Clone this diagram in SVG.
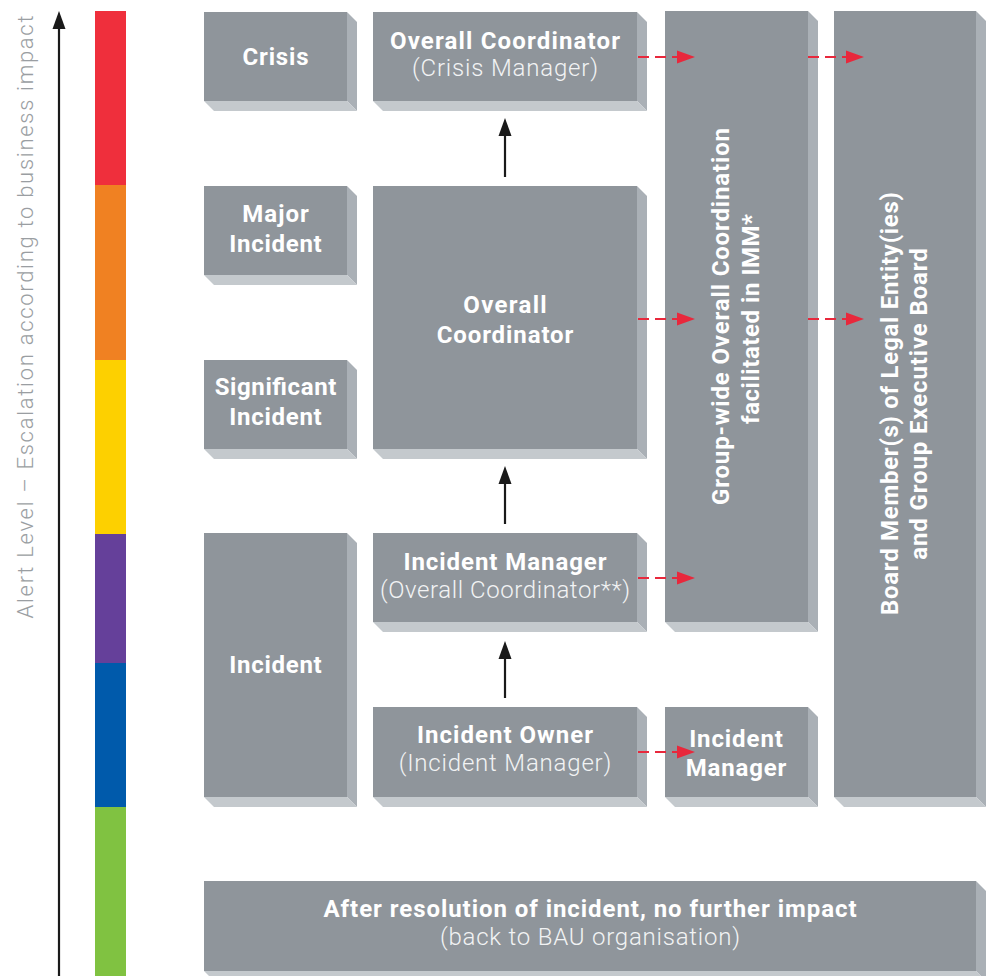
<svg xmlns="http://www.w3.org/2000/svg" width="992" height="976" viewBox="0 0 992 976">
<style>
.face{fill:#8f959b}
.side{fill:#aab0b6}
.bot{fill:#c4c9cd}
.b{font-family:Roboto,"Liberation Sans",sans-serif;font-weight:700;font-size:24px;fill:#ffffff;text-anchor:middle}
.l{font-family:Roboto,"Liberation Sans",sans-serif;font-weight:300;font-size:24px;fill:#f2f3f4;text-anchor:middle}
.ax{font-family:Roboto,"Liberation Sans",sans-serif;font-weight:300;font-size:22px;fill:#9a9ea2;text-anchor:middle}
.dash{stroke:#e8283c;stroke-width:2.2;stroke-dasharray:11 6;fill:none}
.rh{fill:#e8283c}
.bl{stroke:#1a1a1a;stroke-width:2.2;fill:none}
.bh{fill:#1a1a1a}
</style>
<rect width="992" height="976" fill="#ffffff"/>

<g id="scale">
<rect x="95" y="11" width="31" height="174" fill="#ef2f3c"/>
<rect x="95" y="185" width="31" height="175" fill="#f08122"/>
<rect x="95" y="360" width="31" height="174" fill="#fdd000"/>
<rect x="95" y="534" width="31" height="129" fill="#65409a"/>
<rect x="95" y="663" width="31" height="144" fill="#005aab"/>
<rect x="95" y="807" width="31" height="169" fill="#80c241"/>
</g>

<g id="axis">
<line x1="59" y1="976" x2="59" y2="26" class="bl"/>
<polygon points="59,11 52.5,29 65.5,29" class="bh"/>
<text class="ax" transform="translate(33,317) rotate(-90)" textLength="603" lengthAdjust="spacing">Alert Level – Escalation according to business impact</text>
</g>

<g id="crisis">
<rect class="face" x="204" y="12" width="143" height="89"/>
<polygon class="side" points="347,12 357,22 357,111 347,101"/>
<polygon class="bot" points="204,101 347,101 357,111 214,111"/>
<text class="b" x="275.5" y="65" textLength="66" lengthAdjust="spacing">Crisis</text>
</g>

<g id="major">
<rect class="face" x="204" y="186" width="143" height="89"/>
<polygon class="side" points="347,186 357,196 357,285 347,275"/>
<polygon class="bot" points="204,275 347,275 357,285 214,285"/>
<text class="b" x="275.5" y="222" textLength="66.5" lengthAdjust="spacing">Major</text>
<text class="b" x="275.5" y="252" textLength="92.4" lengthAdjust="spacing">Incident</text>
</g>

<g id="significant">
<rect class="face" x="204" y="360" width="143" height="89"/>
<polygon class="side" points="347,360 357,370 357,459 347,449"/>
<polygon class="bot" points="204,449 347,449 357,459 214,459"/>
<text class="b" x="275.5" y="395" textLength="121.7" lengthAdjust="spacing">Significant</text>
<text class="b" x="275.5" y="425" textLength="92.4" lengthAdjust="spacing">Incident</text>
</g>

<g id="incident">
<rect class="face" x="204" y="533" width="143" height="264"/>
<polygon class="side" points="347,533 357,543 357,807 347,797"/>
<polygon class="bot" points="204,797 347,797 357,807 214,807"/>
<text class="b" x="275.5" y="673" textLength="92.4" lengthAdjust="spacing">Incident</text>
</g>

<g id="overall-crisis">
<rect class="face" x="373" y="12" width="264" height="89"/>
<polygon class="side" points="637,12 647,22 647,111 637,101"/>
<polygon class="bot" points="373,101 637,101 647,111 383,111"/>
<text class="b" x="505" y="49" textLength="230" lengthAdjust="spacing">Overall Coordinator</text>
<text class="l" x="505" y="76" textLength="186" lengthAdjust="spacing">(Crisis Manager)</text>
</g>

<g id="overall">
<rect class="face" x="373" y="186" width="264" height="263"/>
<polygon class="side" points="637,186 647,196 647,459 637,449"/>
<polygon class="bot" points="373,449 637,449 647,459 383,459"/>
<text class="b" x="505" y="313" textLength="83.3" lengthAdjust="spacing">Overall</text>
<text class="b" x="505" y="343" textLength="136.7" lengthAdjust="spacing">Coordinator</text>
</g>

<g id="incident-manager">
<rect class="face" x="373" y="533" width="264" height="89"/>
<polygon class="side" points="637,533 647,543 647,632 637,622"/>
<polygon class="bot" points="373,622 637,622 647,632 383,632"/>
<text class="b" x="505" y="570" textLength="203" lengthAdjust="spacing">Incident Manager</text>
<text class="l" x="505" y="598" textLength="250" lengthAdjust="spacing">(Overall Coordinator**)</text>
</g>

<g id="incident-owner">
<rect class="face" x="373" y="707" width="264" height="90"/>
<polygon class="side" points="637,707 647,717 647,807 637,797"/>
<polygon class="bot" points="373,797 637,797 647,807 383,807"/>
<text class="b" x="505" y="743" textLength="176" lengthAdjust="spacing">Incident Owner</text>
<text class="l" x="505" y="771" textLength="212.7" lengthAdjust="spacing">(Incident Manager)</text>
</g>

<g id="group-wide">
<rect class="face" x="665" y="11" width="143" height="611"/>
<polygon class="side" points="808,11 818,21 818,632 808,622"/>
<polygon class="bot" points="665,622 808,622 818,632 675,632"/>
<text class="b" transform="translate(729,316.5) rotate(-90)" textLength="377" lengthAdjust="spacing">Group-wide Overall Coordination</text>
<text class="b" transform="translate(759,319) rotate(-90)" textLength="210" lengthAdjust="spacing">facilitated in IMM*</text>
</g>

<g id="incident-manager-small">
<rect class="face" x="665" y="707" width="143" height="90"/>
<polygon class="side" points="808,707 818,717 818,807 808,797"/>
<polygon class="bot" points="665,797 808,797 818,807 675,807"/>
<text class="b" x="736" y="747" textLength="93.7" lengthAdjust="spacing">Incident</text>
<text class="b" x="736" y="776" textLength="100.7" lengthAdjust="spacing">Manager</text>
</g>

<g id="board">
<rect class="face" x="834" y="11" width="142" height="786"/>
<polygon class="side" points="976,11 986,21 986,807 976,797"/>
<polygon class="bot" points="834,797 976,797 986,807 844,807"/>
<text class="b" transform="translate(898,403.5) rotate(-90)" textLength="423" lengthAdjust="spacing">Board Member(s) of Legal Entity(ies)</text>
<text class="b" transform="translate(927,404) rotate(-90)" textLength="311.5" lengthAdjust="spacing">and Group Executive Board</text>
</g>

<g id="after-resolution">
<rect class="face" x="204" y="881" width="772" height="90"/>
<polygon class="side" points="976,881 986,891 986,981 976,971"/>
<polygon class="bot" points="204,971 976,971 986,981 214,981"/>
<text class="b" x="590" y="917" textLength="533" lengthAdjust="spacing">After resolution of incident, no further impact</text>
<text class="l" x="590" y="945" textLength="300" lengthAdjust="spacing">(back to BAU organisation)</text>
</g>

<g id="connectors">
<line class="bl" x1="505" y1="177" x2="505" y2="132"/>
<polygon class="bh" points="505,118 498.5,136 511.5,136"/>
<line class="bl" x1="505" y1="524" x2="505" y2="480"/>
<polygon class="bh" points="505,466 498.5,484 511.5,484"/>
<line class="bl" x1="505" y1="698" x2="505" y2="655"/>
<polygon class="bh" points="505,641 498.5,659 511.5,659"/>

<line class="dash" x1="638" y1="57" x2="681" y2="57"/>
<polygon class="rh" points="695,57 677,50.5 677,63.5"/>
<line class="dash" x1="808" y1="57" x2="850" y2="57"/>
<polygon class="rh" points="864,57 846,50.5 846,63.5"/>
<line class="dash" x1="638" y1="319" x2="681" y2="319"/>
<polygon class="rh" points="695,319 677,312.5 677,325.5"/>
<line class="dash" x1="808" y1="319" x2="850" y2="319"/>
<polygon class="rh" points="864,319 846,312.5 846,325.5"/>
<line class="dash" x1="638" y1="578" x2="681" y2="578"/>
<polygon class="rh" points="695,578 677,571.5 677,584.5"/>
<line class="dash" x1="638" y1="752" x2="681" y2="752"/>
<polygon class="rh" points="695,752 677,745.5 677,758.5"/>
</g>
</svg>
